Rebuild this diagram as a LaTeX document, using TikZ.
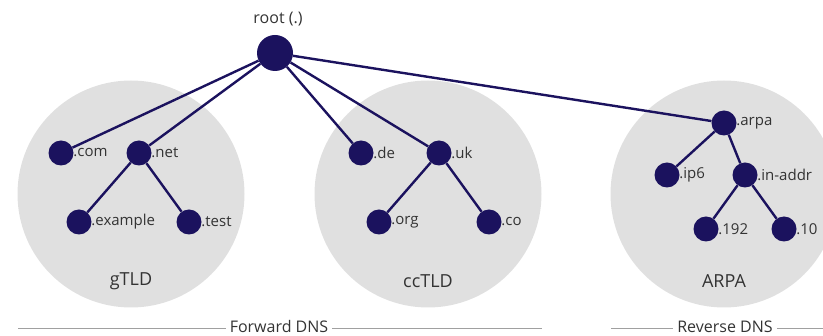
\documentclass[tikz,border=0pt]{standalone}
\usepackage{fontspec}
\setmainfont{Open Sans}
\usetikzlibrary{backgrounds}
\definecolor{navy}{RGB}{27,18,94}
\definecolor{zone}{RGB}{224,224,224}
\definecolor{txt}{RGB}{51,51,51}
\definecolor{rule}{RGB}{160,160,160}
\begin{document}
\begin{tikzpicture}[x=1pt,y=-1pt,
  dot/.style={circle,fill=navy,minimum size=25pt,inner sep=0pt},
  rootdot/.style={circle,fill=navy,minimum size=36pt,inner sep=0pt},
  lbl/.style={label={[label distance=-0.5pt,inner sep=0pt,text=txt,font=\fontsize{15}{17}\selectfont]right:#1}},
  zonebg/.style={circle,fill=zone,minimum size=227pt,inner sep=0pt},
  zonelbl/.style={text=txt,font=\fontsize{18}{20}\selectfont},
  link/.style={draw=navy,line width=2.4pt},
  sect/.style={text=txt,font=\fontsize{16}{18}\selectfont,inner sep=0pt},
  ruleline/.style={draw=rule,line width=0.8pt}]
\useasboundingbox (0,0) rectangle (823,336);
\clip (0,0) rectangle (823,336);
% nodes
\node[rootdot] (root) at (275,53) {};
\node[text=txt,font=\fontsize{16}{18}\selectfont] (rootl) at (278,19) {root (.)};
\node[dot,lbl=.com] (com) at (61,153) {};
\node[dot,lbl=.net] (net) at (139,153) {};
\node[dot,lbl=.example] (ex) at (79,222) {};
\node[dot,lbl=.test] (test) at (189,222) {};
\node[dot,lbl=.de] (de) at (361,153) {};
\node[dot,lbl=.uk] (uk) at (439,153) {};
\node[dot,lbl=.org] (org) at (379,222) {};
\node[dot,lbl=.co] (co) at (489,222) {};
\node[dot,lbl=.arpa] (arpa) at (724,123) {};
\node[dot,lbl=.ip6] (ip6) at (667,175) {};
\node[dot,lbl=.in-addr] (inaddr) at (745,175) {};
\node[dot,lbl=.192] (n192) at (706,229) {};
\node[dot,lbl=.10] (n10) at (784,229) {};
\begin{scope}[on background layer]
% zones
\node[zonebg] (zg) at (131,194) {};
\node[zonebg] (zc) at (428,194) {};
\node[zonebg] (za) at (724,194) {};
\node[zonelbl] (tg) at (131,281) {gTLD};
\node[zonelbl] (tc) at (428,281) {ccTLD};
\node[zonelbl] (ta) at (724,281) {ARPA};
% links
\path[link] (root) -- (com) (root) -- (net) (root) -- (de) (root) -- (uk) (root) -- (arpa)
  (net) -- (ex) (net) -- (test) (uk) -- (org) (uk) -- (co)
  (arpa) -- (ip6) (arpa) -- (inaddr) (inaddr) -- (n192) (inaddr) -- (n10);
\end{scope}
% section rules
\node[sect] (fwd) at (279,327) {Forward DNS};
\node[sect] (rev) at (725,327) {Reverse DNS};
\coordinate (f1) at (18,328);
\coordinate (f2) at (542,328);
\coordinate (r1) at (611,328);
\coordinate (r2) at (823,328);
\draw[ruleline] (f1) -- ([xshift=-4pt]fwd.west |- f1);
\draw[ruleline] ([xshift=4pt]fwd.east |- f1) -- (f2);
\draw[ruleline] (r1) -- ([xshift=-4pt]rev.west |- r1);
\draw[ruleline] ([xshift=4pt]rev.east |- r1) -- (r2);
\end{tikzpicture}
\end{document}
